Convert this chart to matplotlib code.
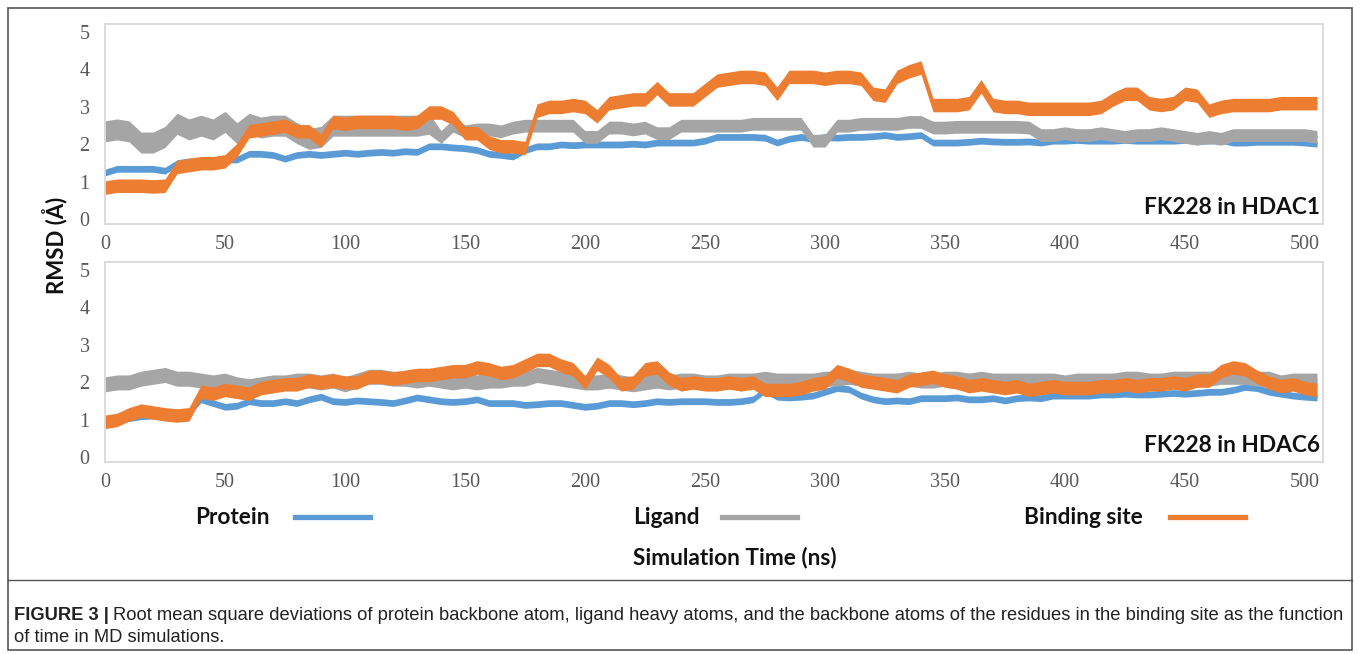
import numpy as np
import matplotlib
matplotlib.use("Agg")
import matplotlib.pyplot as plt
from matplotlib.lines import Line2D
from matplotlib.patches import Rectangle

# ---------------- data (5 ns grid) ----------------
time_ns = list(range(0, 510, 5))

x_ticks = [0, 50, 100, 150, 200, 250, 300, 350, 400, 450, 500]
y_ticks = [0, 1, 2, 3, 4, 5]
series_names = ["Protein", "Ligand", "Binding site"]
panel_titles = ["FK228 in HDAC1", "FK228 in HDAC6"]

h1_protein = [1.25, 1.35, 1.35, 1.35, 1.35, 1.3, 1.5, 1.55, 1.55, 1.55,
              1.6, 1.6, 1.75, 1.75, 1.72, 1.62, 1.72, 1.75, 1.72, 1.75,
              1.78, 1.75, 1.78, 1.8, 1.78, 1.82, 1.8, 1.95, 1.95, 1.92,
              1.9, 1.85, 1.75, 1.72, 1.68, 1.85, 1.95, 1.95, 2.0, 1.98,
              2.0, 2.0, 2.0, 2.0, 2.02, 2.0, 2.05, 2.05, 2.05, 2.05,
              2.1, 2.2, 2.2, 2.2, 2.2, 2.18, 2.05, 2.15, 2.2, 2.15,
              2.2, 2.18, 2.2, 2.2, 2.22, 2.25, 2.2, 2.22, 2.25, 2.05,
              2.05, 2.05, 2.07, 2.1, 2.08, 2.07, 2.07, 2.08, 2.05, 2.1,
              2.1, 2.12, 2.1, 2.1, 2.1, 2.12, 2.1, 2.1, 2.1, 2.1,
              2.12, 2.1, 2.1, 2.12, 2.05, 2.05, 2.07, 2.07, 2.07, 2.07,
              2.05, 2.02]
h1_ligand = [2.35, 2.4, 2.35, 2.05, 2.05, 2.2, 2.55, 2.4, 2.5, 2.4,
             2.6, 2.3, 2.55, 2.45, 2.5, 2.5, 2.3, 2.15, 2.2, 2.5,
             2.5, 2.5, 2.5, 2.5, 2.5, 2.5, 2.5, 2.55, 2.2, 2.5,
             2.35, 2.4, 2.4, 2.35, 2.45, 2.5, 2.5, 2.5, 2.5, 2.5,
             2.2, 2.2, 2.45, 2.45, 2.4, 2.45, 2.3, 2.3, 2.5, 2.5,
             2.5, 2.5, 2.5, 2.5, 2.55, 2.55, 2.55, 2.55, 2.55, 2.1,
             2.1, 2.5, 2.5, 2.55, 2.55, 2.55, 2.55, 2.6, 2.6, 2.45,
             2.45, 2.47, 2.47, 2.47, 2.47, 2.47, 2.47, 2.45, 2.25, 2.25,
             2.3, 2.25, 2.25, 2.3, 2.25, 2.2, 2.25, 2.25, 2.3, 2.25,
             2.2, 2.15, 2.2, 2.15, 2.25, 2.25, 2.25, 2.25, 2.25, 2.25,
             2.25, 2.2]
h1_site = [0.85, 0.9, 0.9, 0.9, 0.88, 0.9, 1.4, 1.45, 1.5, 1.5,
           1.55, 1.85, 2.35, 2.4, 2.45, 2.5, 2.35, 2.35, 2.1, 2.6,
           2.55, 2.6, 2.6, 2.6, 2.6, 2.55, 2.6, 2.85, 2.85, 2.7,
           2.3, 2.3, 2.05, 1.95, 1.95, 1.9, 2.9, 3.0, 3.0, 3.05,
           3.0, 2.75, 3.1, 3.15, 3.2, 3.2, 3.5, 3.2, 3.2, 3.2,
           3.45, 3.7, 3.75, 3.8, 3.8, 3.75, 3.35, 3.8, 3.8, 3.8,
           3.75, 3.8, 3.8, 3.75, 3.35, 3.3, 3.8, 3.95, 4.05, 3.05,
           3.05, 3.05, 3.1, 3.55, 3.05, 3.0, 3.0, 2.95, 2.95, 2.95,
           2.95, 2.95, 2.95, 3.0, 3.2, 3.35, 3.35, 3.1, 3.05, 3.1,
           3.35, 3.3, 2.9, 3.0, 3.05, 3.05, 3.05, 3.05, 3.1, 3.1,
           3.1, 3.1]

h6_protein = [0.9, 1.0, 1.05, 1.1, 1.12, 1.12, 1.15, 1.2, 1.55, 1.45,
              1.35, 1.38, 1.5, 1.45, 1.45, 1.5, 1.45, 1.55, 1.62, 1.5,
              1.48, 1.52, 1.5, 1.48, 1.45, 1.52, 1.6, 1.55, 1.5, 1.48,
              1.5, 1.55, 1.45, 1.45, 1.45, 1.4, 1.42, 1.45, 1.45, 1.4,
              1.35, 1.38, 1.45, 1.45, 1.42, 1.45, 1.5, 1.48, 1.5, 1.5,
              1.5, 1.48, 1.48, 1.5, 1.55, 1.8, 1.62, 1.6, 1.62, 1.65,
              1.75, 1.85, 1.82, 1.65, 1.55, 1.5, 1.52, 1.5, 1.58, 1.58,
              1.58, 1.6, 1.55, 1.55, 1.58, 1.52, 1.58, 1.6, 1.58, 1.65,
              1.65, 1.65, 1.65, 1.68, 1.68, 1.7, 1.68, 1.68, 1.7, 1.72,
              1.7, 1.72, 1.75, 1.75, 1.8, 1.88, 1.85, 1.75, 1.7, 1.65,
              1.62, 1.6]
h6_ligand = [1.95, 2.0, 2.0, 2.1, 2.15, 2.2, 2.1, 2.1, 2.05, 2.0,
             2.05, 1.95, 1.9, 1.95, 2.0, 2.0, 2.05, 2.05, 2.0, 2.05,
             1.95, 2.05, 2.15, 2.15, 2.1, 2.1, 2.05, 2.1, 2.05, 2.0,
             2.05, 2.0, 2.05, 2.05, 2.1, 2.1, 2.2, 2.15, 2.1, 2.05,
             2.0, 2.0, 2.05, 2.0, 1.95, 2.0, 2.05, 2.0, 2.05, 2.05,
             2.0, 2.0, 2.05, 2.05, 2.05, 2.1, 2.05, 2.05, 2.05, 2.05,
             2.1, 2.1, 2.15, 2.1, 2.05, 2.05, 2.05, 2.1, 2.05, 2.05,
             2.1, 2.1, 2.05, 2.1, 2.05, 2.05, 2.05, 2.05, 2.05, 2.05,
             2.0, 2.05, 2.05, 2.05, 2.05, 2.1, 2.1, 2.05, 2.05, 2.1,
             2.1, 2.1, 2.1, 2.15, 2.15, 2.15, 2.1, 2.1, 2.0, 2.05,
             2.05, 2.05]
h6_site = [0.95, 1.0, 1.15, 1.25, 1.2, 1.15, 1.12, 1.15, 1.75, 1.7,
           1.8, 1.75, 1.7, 1.85, 1.9, 1.95, 1.95, 2.05, 2.0, 2.05,
           2.0, 2.0, 2.15, 2.15, 2.1, 2.15, 2.2, 2.2, 2.25, 2.3,
           2.3, 2.4, 2.35, 2.25, 2.3, 2.45, 2.6, 2.6, 2.45, 2.35,
           2.0, 2.5, 2.3, 1.95, 2.0, 2.35, 2.4, 2.1, 1.95, 2.0,
           1.95, 1.95, 2.0, 1.95, 2.0, 1.8, 1.8, 1.8, 1.85, 1.95,
           2.0, 2.3, 2.2, 2.05, 2.0, 1.95, 1.9, 2.05, 2.1, 2.15,
           2.05, 2.0, 1.9, 1.95, 1.9, 1.85, 1.9, 1.8, 1.85, 1.9,
           1.85, 1.85, 1.85, 1.9, 1.9, 1.95, 1.9, 1.95, 1.95, 2.0,
           1.95, 2.05, 2.05, 2.3, 2.4, 2.35, 2.15, 2.0, 1.9, 1.95,
           1.85, 1.8]

# half-thickness of the noisy band of each trace (Å)
h1_spread = {"Protein": 0.09, "Ligand": [0.28] * 28 + [0.17] * 74, "Binding site": 0.18}
h6_spread = {"Protein": 0.09, "Ligand": 0.2, "Binding site": 0.18}

colors = {"Protein": "#5B9BD5", "Ligand": "#A5A5A5", "Binding site": "#ED7D31"}

# ---------------- figure ----------------
W, H = 1360, 654
fig = plt.figure(figsize=(W / 100, H / 100), dpi=100)


def fx(x):
    return x / W


def fy(y):
    return 1 - y / H


panels = [
    ((105, 24, 1323, 224), {"Protein": h1_protein, "Ligand": h1_ligand, "Binding site": h1_site}, h1_spread),
    ((105, 262, 1323, 462), {"Protein": h6_protein, "Ligand": h6_ligand, "Binding site": h6_site}, h6_spread),
]

t = np.array(time_ns, dtype=float)
for (box, data, spread), title in zip(panels, panel_titles):
    x0, y0, x1, y1 = box
    ax = fig.add_axes([fx(x0), fy(y1), fx(x1) - fx(x0), fy(y0) - fy(y1)])
    for name in series_names:
        c = np.array(data[name])
        s = np.array(spread[name]) if isinstance(spread[name], list) else spread[name]
        ax.fill_between(t, c - s, c + s, color=colors[name], lw=0, zorder=2)
        ax.plot(t, c, color=colors[name], lw=1.0, zorder=2)
    ax.set_xlim(0, 507.5)
    ax.set_ylim(-0.12, 5.21)
    ax.set_xticks(x_ticks)
    ax.set_yticks(y_ticks)
    ax.tick_params(length=0, labelsize=14.5, colors="#595959", pad=8)
    ax.tick_params(axis="y", pad=11)
    for lab in ax.get_xticklabels() + ax.get_yticklabels():
        lab.set_family("Liberation Serif")
        lab.set_color("#595959")
    for sp in ax.spines.values():
        sp.set_color("#D9D9D9")
        sp.set_linewidth(1.3)
    ax.text(0.9975, 0.08, title, transform=ax.transAxes, ha="right", va="center",
            fontsize=16.3, fontweight="bold", family="Lato", color="#111111")

# y label
fig.text(fx(55), fy(245), "RMSD (Å)", rotation=90, ha="center", va="center",
         fontsize=16, fontweight="bold", family="Lato", color="#111111")

# legend
legend_items = [("Protein", 195, 295), ("Ligand", 633, 722), ("Binding site", 1024, 1170)]
for name, tx, lx in legend_items:
    fig.text(fx(tx), fy(517), name, ha="left", va="center", fontsize=16.3,
             fontweight="bold", family="Lato", color="#111111")
    fig.add_artist(Line2D([fx(lx), fx(lx + 75)], [fy(517), fy(517)],
                          color=colors[name], lw=3.8, transform=fig.transFigure))

fig.text(fx(735), fy(557), "Simulation Time (ns)", ha="center", va="center",
         fontsize=16.3, fontweight="bold", family="Lato", color="#111111")

# border box and separator
fig.add_artist(Rectangle((fx(8), fy(650)), fx(1352) - fx(8), fy(8) - fy(650),
                         transform=fig.transFigure, fill=False, ec="#555555", lw=1.2))
fig.add_artist(Line2D([fx(8), fx(1352)], [fy(580), fy(580)], color="#555555", lw=1.0,
                      transform=fig.transFigure))

# caption
fig.canvas.draw()
renderer = fig.canvas.get_renderer()
cap_size = 13.2
cap_bold = fig.text(fx(14), fy(615), "FIGURE 3 |", ha="left", va="center", fontsize=cap_size,
                    fontweight="bold", family="Liberation Sans", color="#222222")
bb = cap_bold.get_window_extent(renderer=renderer)
fig.text(bb.x1 / W + fx(4), fy(615),
         "Root mean square deviations of protein backbone atom, ligand heavy atoms, and the backbone atoms of the residues in the binding site as the function",
         ha="left", va="center", fontsize=cap_size, family="Liberation Sans", color="#222222")
fig.text(fx(14), fy(638), "of time in MD simulations.", ha="left", va="center", fontsize=cap_size,
         family="Liberation Sans", color="#222222")

fig.savefig("out.png", dpi=100)
